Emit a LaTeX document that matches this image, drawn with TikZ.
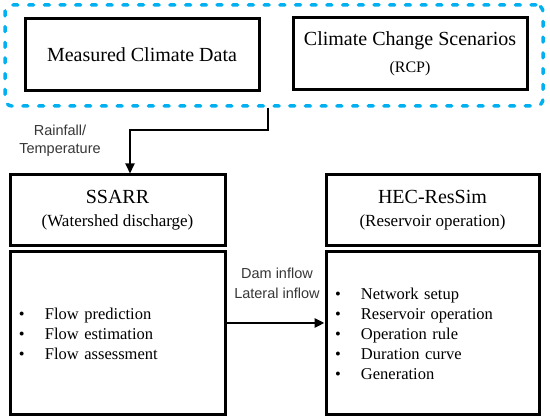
\documentclass[tikz,border=0pt]{standalone}
\usepackage{fontspec}
\setmainfont{Liberation Serif}
\newfontfamily\labfont{Liberation Sans}
\usetikzlibrary{arrows.meta}
\definecolor{dashblue}{RGB}{0,176,240}
\definecolor{labgray}{RGB}{55,55,55}
\tikzset{
  box/.style={draw=black, line width=3pt, fill=white, inner sep=0pt, align=center},
  grpbox/.style={draw=dashblue, line width=3.5pt, dash pattern=on 5pt off 10.7pt, line cap=round, rounded corners=7pt, inner sep=0pt},
  listbox/.style={draw=black, line width=3pt, inner xsep=9pt, inner ysep=0pt, align=left},
  lab/.style={font=\labfont\fontsize{14.5}{18}\selectfont, text=labgray, align=center, inner sep=0pt},
  conn/.style={line width=2pt, -{Triangle[length=10pt,width=9pt]}},
}
\newcommand{\bl}[1]{\makebox[26pt][l]{\textbullet}#1}
\begin{document}
\begin{tikzpicture}[x=1pt,y=1pt]
\useasboundingbox[fill=white] (0,0) rectangle (550,420);
\node[grpbox, minimum width=538pt, minimum height=101pt] (grp) at (274,364.5) {};
\node[box, minimum width=234pt, minimum height=72pt, font=\fontsize{20}{24}\selectfont] (meas) at (142,365)
  {Measured Climate Data};
\node[box, minimum width=234pt, minimum height=72pt, font=\fontsize{16}{27}\selectfont] (ccs) at (410,366)
  {{\fontsize{20}{27}\selectfont Climate Change Scenarios}\\(RCP)};
\node[box, minimum width=215pt, minimum height=71pt, font=\fontsize{17}{23}\selectfont] (ssarr) at (117.5,209.5)
  {{\fontsize{20}{23}\selectfont SSARR}\\(Watershed discharge)};
\node[box, minimum width=213pt, minimum height=71pt, font=\fontsize{17}{23}\selectfont] (hec) at (432.5,209.5)
  {{\fontsize{20}{23}\selectfont HEC-ResSim}\\(Reservoir operation)};
\node[listbox, text width=197pt, minimum height=163pt, font=\fontsize{16.5}{20}\selectfont] (ssarrL) at (117.5,86.5)
  {\bl{Flow prediction}\\\bl{Flow estimation}\\\bl{Flow assessment}};
\node[listbox, text width=195pt, minimum height=163pt, font=\fontsize{16.5}{20}\selectfont] (hecL) at (432.5,86.5)
  {\bl{Network setup}\\\bl{Reservoir operation}\\\bl{Operation rule}\\\bl{Duration curve}\\\bl{Generation}};
\node[lab] (rlab) at (60,279) {Rainfall/\\Temperature};
\node[lab, font=\labfont\fontsize{14.5}{20}\selectfont] (dlab) at (277,137) {Dam inflow\\Lateral inflow};
\draw[conn] ([xshift=-6pt]grp.south) -- ++(0,-22pt) -| ([xshift=12.5pt]ssarr.north);
\draw[conn, line width=2.5pt] ([yshift=10.5pt]ssarrL.east) -- ([yshift=10.5pt]hecL.west);
\end{tikzpicture}
\end{document}
